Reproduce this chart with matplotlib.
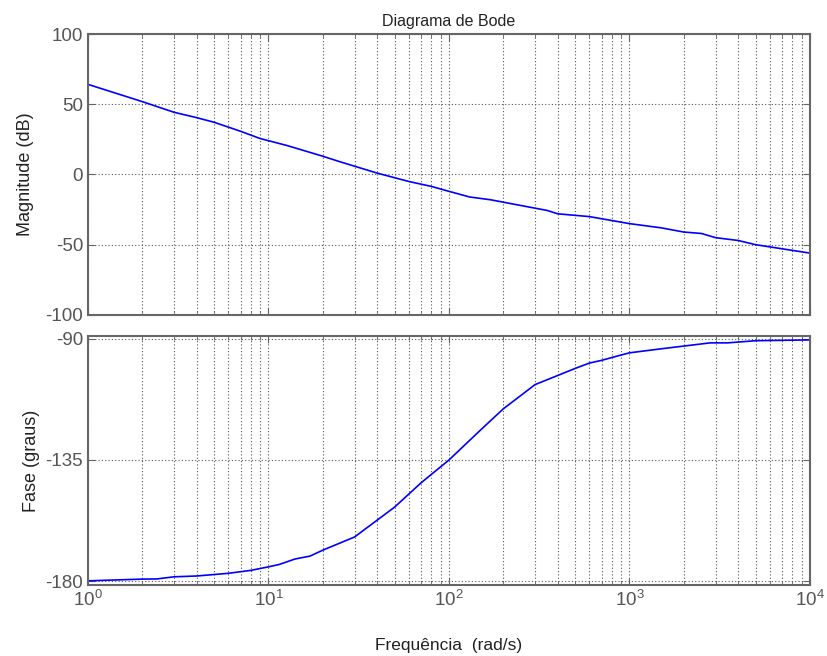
import matplotlib
matplotlib.use("Agg")
import matplotlib.pyplot as plt
import numpy as np
from matplotlib.ticker import LogLocator, NullFormatter, FixedLocator

plt.rcParams['font.family'] = ['Liberation Sans', 'DejaVu Sans']
plt.rcParams['axes.unicode_minus'] = False

freq_mag = [1, 2, 3, 4, 5, 7, 9, 12.7, 20, 25, 40, 60, 80, 100, 130, 170, 300, 350, 400, 600,
            1000, 1500, 2000, 2500, 3000, 4000, 5000, 10000]
mag_db = [64.2, 51.9, 44.3, 40.5, 37.2, 30.8, 25.6, 20.6, 13, 9, 1, -5, -8.5, -12, -16, -18,
          -24, -25.6, -28, -30, -35, -38, -41, -42, -45, -47, -50, -56]

freq_ph = [1, 2, 2.4, 3, 4, 6, 8, 10, 11.5, 14, 17, 20, 30, 50, 70, 100, 150, 200, 300, 500,
           600, 700, 900, 1000, 1500, 2800, 3500, 5000, 10000]
phase_deg = [-179.9, -179.25, -179.2, -178.4, -178.1, -177.1, -176.0, -174.7, -173.8, -171.8,
             -170.7, -168.5, -163.6, -152.5, -143.5, -135, -123.8, -116, -107, -101, -99, -98,
             -96, -95.2, -93.7, -91.5, -91.5, -90.7, -90.4]

mag_ticks = [-100, -50, 0, 50, 100]
phase_ticks = [-180, -135, -90]

fig = plt.figure(figsize=(8.27, 6.56), dpi=100)
ax1 = fig.add_axes([0.1064, 0.520, 0.8730, 0.428])
ax2 = fig.add_axes([0.1064, 0.108, 0.8730, 0.380])

spine_col = '#666666'
tick_col = '#555555'
for ax in (ax1, ax2):
    ax.set_xscale('log')
    ax.set_xlim(1, 1e4)
    ax.xaxis.set_major_locator(LogLocator(base=10, numticks=10))
    ax.xaxis.set_minor_locator(LogLocator(base=10, subs=np.arange(2, 10), numticks=20))
    ax.xaxis.set_minor_formatter(NullFormatter())
    ax.grid(True, which='major', linestyle=(0, (1, 2)), color='#555555', linewidth=0.8)
    ax.grid(True, which='minor', axis='x', linestyle=(0, (1, 2)), color='#555555', linewidth=0.8)
    for s in ax.spines.values():
        s.set_color(spine_col)
        s.set_linewidth(1.5)
    ax.tick_params(which='both', direction='in', top=True, right=True, colors=spine_col,
                   labelcolor=tick_col, labelsize=13.5)
    ax.tick_params(which='major', length=5)
    ax.tick_params(which='minor', length=3)

ax1.plot(freq_mag, mag_db, color='#0000ff', linewidth=1.2)
ax1.set_ylim(-100, 100)
ax1.yaxis.set_major_locator(FixedLocator(mag_ticks))
ax1.tick_params(axis='x', which='both', labelbottom=False)
ax1.set_ylabel('Magnitude (dB)', fontsize=13, color='#222222', labelpad=8)
ax1.set_title('Diagrama de Bode', fontsize=11.5, color='#222222', pad=6)

ax2.plot(freq_ph, phase_deg, color='#0000ff', linewidth=1.2)
ax2.set_ylim(-181.5, -88.9)
ax2.yaxis.set_major_locator(FixedLocator(phase_ticks))
ax2.set_ylabel('Fase (graus)', fontsize=13, color='#222222')
ax2.set_xlabel('Frequência  (rad/s)', fontsize=12.5, color='#222222', labelpad=20)

fig.align_ylabels([ax1, ax2])
fig.savefig('out.png', dpi=100)
